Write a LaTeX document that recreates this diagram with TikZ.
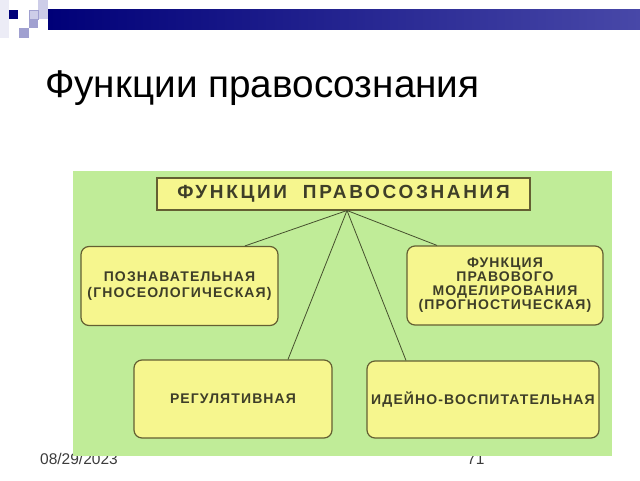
\documentclass[tikz,border=0pt]{standalone}
\usepackage{fontspec}
\setmainfont{Liberation Sans}
\newfontfamily\bxfont[LetterSpace=8]{Liberation Sans}
\newfontfamily\hdfont[LetterSpace=14]{Liberation Sans}
\definecolor{panelgreen}{RGB}{192,236,152}
\definecolor{boxyellow}{RGB}{246,246,142}
\definecolor{bordercol}{RGB}{100,95,50}
\definecolor{txtcol}{RGB}{62,62,40}
\definecolor{linecol}{RGB}{70,80,45}
\definecolor{navy}{RGB}{0,0,120}
\definecolor{barright}{RGB}{72,72,168}
\definecolor{sqlight}{RGB}{205,205,232}
\definecolor{sqmid}{RGB}{160,160,208}
\definecolor{sqfaint}{RGB}{236,236,246}
\definecolor{footgray}{RGB}{60,60,60}
\begin{document}
\begin{tikzpicture}[x=1pt,y=-1pt,
  box/.style={draw=bordercol, line width=1.2pt, fill=boxyellow, rounded corners=8pt,
    align=center, text=txtcol, inner sep=0pt,
    font=\bxfont\bfseries\fontsize{14}{17}\selectfont},
  headbox/.style={draw=bordercol, line width=1.2pt, fill=boxyellow, inner sep=0pt,
    text=txtcol, font=\hdfont\bfseries\fontsize{19}{22}\selectfont},
  conn/.style={draw=linecol, line width=0.8pt},
  foot/.style={anchor=base west, inner sep=0pt, text=footgray, font=\fontsize{15.5}{17}\selectfont}]
\useasboundingbox (0,0) rectangle (640,480);
\fill[white] (0,0) rectangle (640,480);
% header decoration
\fill[sqfaint] (0,0) rectangle (9,38);
\shade[left color=navy, right color=barright] (48,9) rectangle (640,29);
\fill[navy] (9,10) rectangle (18,19);
\fill[sqlight] (38,0) rectangle (48,9.5);
\fill[sqlight] (38,9.5) rectangle (48,19);
\filldraw[fill=sqlight, draw=sqmid, line width=0.6pt] (29,10) rectangle (38,19);
\fill[sqmid] (29,19) rectangle (38,28);
\fill[sqmid] (19,28) rectangle (29,38);
% title
\node[anchor=base west, inner sep=0pt, font=\fontsize{38.7}{44}\selectfont] (title) at (45,97) {Функции правосознания};
% footer
\node[foot] (date) at (40,464) {08/29/2023};
\node[foot] (num) at (467,464) {71};
% panel
\fill[panelgreen] (73,171) rectangle (612,456);
% boxes
\node[headbox, minimum width=373pt, minimum height=32pt] (top) at (343.5,194) {ФУНКЦИИ\ \ ПРАВОСОЗНАНИЯ};
\node[box, minimum width=197pt, minimum height=79pt] (lbox) at (179.5,286)
  {\raisebox{4.5pt}{\begin{tabular}{@{}c@{}}ПОЗНАВАТЕЛЬНАЯ\\[-0.5pt](ГНОСЕОЛОГИЧЕСКАЯ)\end{tabular}}};
\node[box, minimum width=196pt, minimum height=79pt, font=\bxfont\bfseries\fontsize{14}{13.7}\selectfont] (rbox) at (505,285.5)
  {\raisebox{2pt}{\begin{tabular}{@{}c@{}}ФУНКЦИЯ\\ПРАВОВОГО\\МОДЕЛИРОВАНИЯ\\(ПРОГНОСТИЧЕСКАЯ)\end{tabular}}};
\node[box, minimum width=198pt, minimum height=78pt] (gbox) at (233,399) {РЕГУЛЯТИВНАЯ};
\node[box, minimum width=232pt, minimum height=77pt] (ibox) at (483,399.5) {ИДЕЙНО-ВОСПИТАТЕЛЬНАЯ};
% connectors
\coordinate (apex) at (347,210.5);
\draw[conn] (apex) -- (245,0 |- lbox.north);
\draw[conn] (apex) -- (437,0 |- rbox.north);
\draw[conn] (apex) -- (288,0 |- gbox.north);
\draw[conn] (apex) -- (406,0 |- ibox.north);
\end{tikzpicture}
\end{document}
